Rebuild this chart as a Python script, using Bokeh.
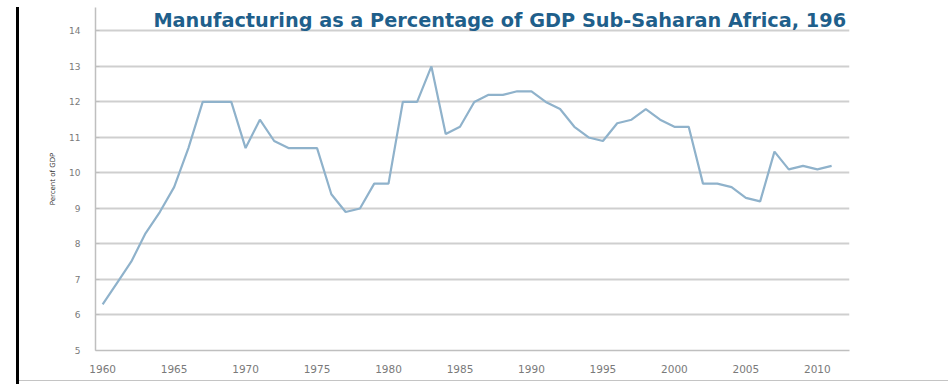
from bokeh.plotting import figure
from bokeh.embed import file_html
from bokeh.resources import INLINE
from bokeh.models import Range1d, FixedTicker, Spacer
from bokeh.layouts import row, column
from bokeh.core.properties import value

years = list(range(1960, 2012))
pct_gdp = [6.3, 6.9, 7.5, 8.3, 8.9, 9.6, 10.7, 12.0, 12.0, 12.0,
           10.7, 11.5, 10.9, 10.7, 10.7, 10.7, 9.4, 8.9, 9.0, 9.7,
           9.7, 12.0, 12.0, 13.0, 11.1, 11.3, 12.0, 12.2, 12.2, 12.3,
           12.3, 12.0, 11.8, 11.3, 11.0, 10.9, 11.4, 11.5, 11.8, 11.5,
           11.3, 11.3, 9.7, 9.7, 9.6, 9.3, 9.2, 10.6, 10.1, 10.2,
           10.1, 10.2]
y_ticks = [5, 6, 7, 8, 9, 10, 11, 12, 13, 14]
x_ticks = [1960, 1965, 1970, 1975, 1980, 1985, 1990, 1995, 2000, 2005, 2010]
title_text = "Manufacturing as a Percentage of GDP Sub-Saharan Africa, 196"
y_label = "Percent of GDP"

p = figure(width=929, height=380, output_backend="svg", toolbar_location=None,
           x_range=Range1d(1959.5, 2012.25), y_range=Range1d(5, 14.66),
           min_border_left=76, min_border_right=99, min_border_top=7,
           min_border_bottom=30)
p.outline_line_color = None
p.background_fill_color = "white"
p.border_fill_color = "white"

p.line(years, pct_gdp, line_color="#8fb2cb", line_width=2.2)

# axes
p.yaxis.ticker = FixedTicker(ticks=y_ticks)
p.xaxis.ticker = FixedTicker(ticks=x_ticks)
for ax in (p.xaxis, p.yaxis):
    ax.major_label_text_font = "DejaVu Sans"
    ax.major_label_text_color = "#7a7a7a"
    ax.minor_tick_line_color = None
    ax.axis_line_color = "#bfbfbf"
    ax.axis_line_width = 1.5
p.xaxis.major_label_text_font_size = "10.5px"
p.yaxis.major_label_text_font_size = "9px"
p.xaxis.major_tick_line_color = None
p.xaxis.major_label_standoff = 8
p.yaxis.major_tick_in = 4
p.yaxis.major_tick_out = 0
p.yaxis.major_tick_line_color = "#bfbfbf"
p.yaxis.major_label_standoff = 15
p.yaxis.axis_label = y_label
p.yaxis.axis_label_text_font = "DejaVu Sans"
p.yaxis.axis_label_text_font_size = "7px"
p.yaxis.axis_label_text_font_style = "normal"
p.yaxis.axis_label_text_color = "#333333"
p.yaxis.axis_label_standoff = 9

p.xgrid.grid_line_color = None
p.ygrid.grid_line_color = "#cfcfcf"
p.ygrid.grid_line_width = 2

# title drawn inside the frame (clipped at the right edge like the reference)
p.text(x=[1963.55], y=[14.3], text=[title_text], text_font=value("DejaVu Sans"),
       text_font_style="bold", text_font_size="19.3px", text_color="#1f5f8b",
       text_baseline="middle", text_align="left")

left_gap = Spacer(width=16, height=384, margin=0)
black_bar = Spacer(width=3, height=377, margin=(7, 0, 0, 0),
                   styles={"background-color": "black"})
bottom_rule = Spacer(width=929, height=1, margin=0,
                     styles={"background-color": "#c4c4c4"})
layout = row(left_gap, black_bar, column(p, bottom_rule, spacing=0), spacing=0)

open("out.html", "w").write(file_html(layout, INLINE))
